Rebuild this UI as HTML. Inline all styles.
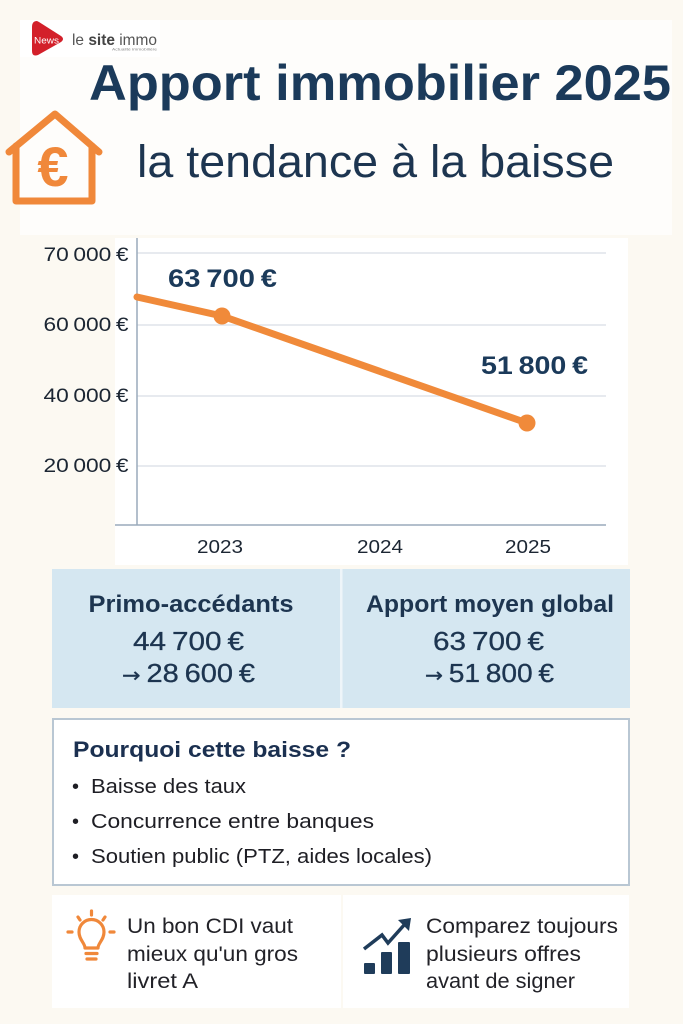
<!DOCTYPE html>
<html>
<head>
<meta charset="utf-8">
<style>
html,body{margin:0;padding:0;background:#fcf9f2;}
svg{display:block;}
text{font-family:"Liberation Sans",sans-serif;}
</style>
</head>
<body>
<svg width="683" height="1024" viewBox="0 0 683 1024" xmlns="http://www.w3.org/2000/svg">
  <rect x="0" y="0" width="683" height="1024" fill="#fcf9f2"/>
  <rect x="20" y="20" width="652" height="215" fill="#fefdfb"/>
  <!-- logo -->
  <rect x="20" y="20" width="140" height="37" fill="#ffffff"/>
  <path d="M37,21 Q32,21 32,27 L32,51 Q32,57 38,55 L61,42 Q65,39 61,36 L39,22 Z" fill="#d3202a"/>
  <text x="34" y="43.5" font-size="9" fill="#ffffff" textLength="25" lengthAdjust="spacingAndGlyphs">News</text>
  <text x="72" y="45" font-size="16" fill="#555555" textLength="85" lengthAdjust="spacingAndGlyphs">le <tspan font-weight="bold" fill="#444">site</tspan> immo</text>
  <text x="112" y="50.5" font-size="4" fill="#888" textLength="45" lengthAdjust="spacingAndGlyphs">Actualité immobilière</text>

  <!-- title -->
  <text x="89" y="100" font-size="50" font-weight="bold" fill="#1b3a5a" textLength="582" lengthAdjust="spacingAndGlyphs">Apport immobilier 2025</text>
  <text x="137" y="177" font-size="45" fill="#1d3550" textLength="477" lengthAdjust="spacingAndGlyphs">la tendance à la baisse</text>

  <!-- house icon -->
  <g fill="none" stroke="#f0883a" stroke-width="7" stroke-linejoin="round" stroke-linecap="round">
    <path d="M9,152 L55,114 L99,152"/>
    <path d="M16,146 L16,201 L92,201 L92,146"/>
  </g>
  <text x="53" y="186" font-size="56" font-weight="bold" fill="#f0883a" text-anchor="middle">€</text>

  <!-- chart panel -->
  <rect x="115" y="238" width="513" height="327" fill="#ffffff"/>
  <g stroke="#dfe4ea" stroke-width="1.5">
    <line x1="137" y1="253" x2="606" y2="253"/>
    <line x1="137" y1="325" x2="606" y2="325"/>
    <line x1="137" y1="396" x2="606" y2="396"/>
    <line x1="137" y1="466" x2="606" y2="466"/>
  </g>
  <line x1="137" y1="238" x2="137" y2="525" stroke="#9aaabb" stroke-width="1.5"/>
  <line x1="115" y1="525" x2="606" y2="525" stroke="#9aaabb" stroke-width="1.5"/>
  <g font-size="19" fill="#1c2633" text-anchor="end">
    <text x="128.5" y="261" textLength="85" lengthAdjust="spacingAndGlyphs">70&#8201;000&#8201;€</text>
    <text x="128.5" y="331" textLength="85" lengthAdjust="spacingAndGlyphs">60&#8201;000&#8201;€</text>
    <text x="128.5" y="402" textLength="85" lengthAdjust="spacingAndGlyphs">40&#8201;000&#8201;€</text>
    <text x="128.5" y="472" textLength="85" lengthAdjust="spacingAndGlyphs">20&#8201;000&#8201;€</text>
  </g>
  <g font-size="18" fill="#1c2633" text-anchor="middle">
    <text x="220" y="553" textLength="46" lengthAdjust="spacingAndGlyphs">2023</text>
    <text x="380" y="553" textLength="46" lengthAdjust="spacingAndGlyphs">2024</text>
    <text x="528" y="553" textLength="46" lengthAdjust="spacingAndGlyphs">2025</text>
  </g>
  <path d="M137,297 L222,316 L527,423" fill="none" stroke="#f08a3a" stroke-width="7" stroke-linecap="round" stroke-linejoin="round"/>
  <circle cx="222" cy="316" r="8.5" fill="#f08a3a"/>
  <circle cx="527" cy="423" r="8.5" fill="#f08a3a"/>
  <text x="168" y="287" font-size="25" font-weight="bold" fill="#1b3a5a" textLength="109" lengthAdjust="spacingAndGlyphs">63&#8201;700&#8201;€</text>
  <text x="481" y="374" font-size="25" font-weight="bold" fill="#1b3a5a" textLength="107" lengthAdjust="spacingAndGlyphs">51&#8201;800&#8201;€</text>

  <!-- stats box -->
  <rect x="52" y="569" width="578" height="139" fill="#d5e7f1"/>
  <rect x="340" y="569" width="2.5" height="139" fill="#eef5f9"/>
  <g fill="#1d3550" text-anchor="middle">
    <text x="191" y="612" font-size="24" font-weight="bold" textLength="205" lengthAdjust="spacingAndGlyphs">Primo-accédants</text>
    <text x="188.5" y="650" font-size="26" textLength="111" lengthAdjust="spacingAndGlyphs" stroke="#1d3550" stroke-width="0.3">44&#8201;700&#8201;€</text>
    <text x="188.5" y="682" font-size="26" textLength="133" lengthAdjust="spacingAndGlyphs" stroke="#1d3550" stroke-width="0.3"><tspan font-family="DejaVu Sans" font-size="20">→</tspan>&#8201;28&#8201;600&#8201;€</text>
    <text x="490" y="612" font-size="24" font-weight="bold" textLength="248" lengthAdjust="spacingAndGlyphs">Apport moyen global</text>
    <text x="488.5" y="650" font-size="26" textLength="111" lengthAdjust="spacingAndGlyphs" stroke="#1d3550" stroke-width="0.3">63&#8201;700&#8201;€</text>
    <text x="489.5" y="682" font-size="26" textLength="129" lengthAdjust="spacingAndGlyphs" stroke="#1d3550" stroke-width="0.3"><tspan font-family="DejaVu Sans" font-size="20">→</tspan>&#8201;51&#8201;800&#8201;€</text>
  </g>

  <!-- pourquoi box -->
  <rect x="53" y="719" width="576" height="166" fill="#ffffff" stroke="#b9c7d3" stroke-width="2"/>
  <text x="73" y="757" font-size="22" font-weight="bold" fill="#1b3050" textLength="278" lengthAdjust="spacingAndGlyphs">Pourquoi cette baisse ?</text>
  <g font-size="20" fill="#1e1e24">
    <text x="72" y="793">•</text>
    <text x="91" y="793" textLength="155" lengthAdjust="spacingAndGlyphs">Baisse des taux</text>
    <text x="72" y="828">•</text>
    <text x="91" y="828" textLength="283" lengthAdjust="spacingAndGlyphs">Concurrence entre banques</text>
    <text x="72" y="863">•</text>
    <text x="91" y="863" textLength="341" lengthAdjust="spacingAndGlyphs">Soutien public (PTZ, aides locales)</text>
  </g>

  <!-- bottom panels -->
  <rect x="52" y="895" width="289" height="113" fill="#ffffff"/>
  <rect x="343" y="895" width="286" height="113" fill="#ffffff"/>

  <!-- bulb -->
  <g fill="none" stroke="#f0883a" stroke-width="3.2" stroke-linecap="round" stroke-linejoin="round">
    <path d="M85,948 C85,943 79,940 79,932 A12.5,12.5 0 1,1 104,932 C104,940 98,943 98,948 Z"/>
    <line x1="86" y1="953.5" x2="97" y2="953.5"/>
    <line x1="87" y1="959" x2="96" y2="959"/>
    <line x1="91.5" y1="911" x2="91.5" y2="915"/>
    <line x1="78" y1="917" x2="80" y2="920"/>
    <line x1="105" y1="917" x2="103" y2="920"/>
    <line x1="68" y1="932" x2="72" y2="932"/>
    <line x1="110" y1="932" x2="114" y2="932"/>
  </g>
  <g font-size="21" fill="#222228">
    <text x="127" y="933" textLength="166" lengthAdjust="spacingAndGlyphs">Un bon CDI vaut</text>
    <text x="127" y="961" textLength="171" lengthAdjust="spacingAndGlyphs">mieux qu'un gros</text>
    <text x="127" y="988" textLength="71" lengthAdjust="spacingAndGlyphs">livret A</text>
  </g>

  <!-- chart icon -->
  <g fill="#1f3c5a">
    <rect x="364" y="963" width="11" height="11" rx="1"/>
    <rect x="381" y="952" width="11" height="22" rx="1"/>
    <rect x="398" y="942" width="12" height="32" rx="1"/>
    <path d="M411,918 L398,920 L409,931 Z"/>
  </g>
  <path d="M364,949 L382,935 L388,943 L405,924" fill="none" stroke="#1f3c5a" stroke-width="3.5" stroke-linejoin="miter"/>
  <g font-size="21" fill="#222228">
    <text x="426" y="933" textLength="192" lengthAdjust="spacingAndGlyphs">Comparez toujours</text>
    <text x="426" y="961" textLength="155" lengthAdjust="spacingAndGlyphs">plusieurs offres</text>
    <text x="426" y="988" textLength="149" lengthAdjust="spacingAndGlyphs">avant de signer</text>
  </g>
</svg>
</body>
</html>
